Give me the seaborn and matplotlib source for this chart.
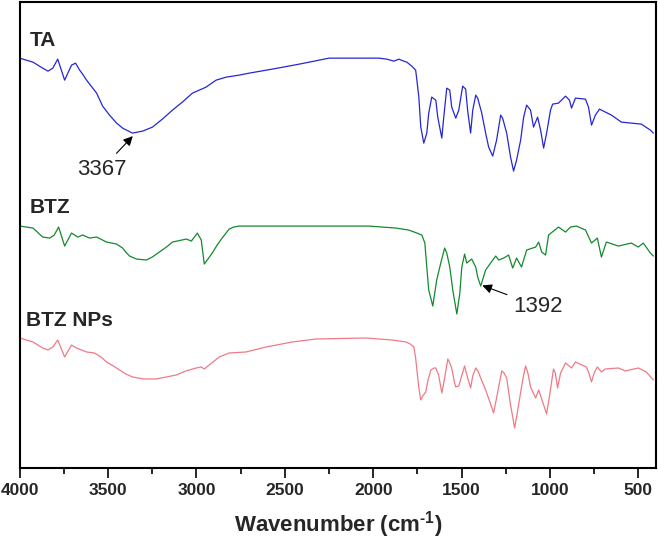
import numpy as np
import pandas as pd
import matplotlib
matplotlib.use("Agg")
import matplotlib.pyplot as plt
from matplotlib.ticker import MultipleLocator
import seaborn as sns

# FTIR spectra (wavenumber in cm-1, transmittance in a.u., offset per sample)
ta_wn = [4000, 3925, 3870, 3840, 3813, 3785, 3746, 3707, 3684, 3661, 3644, 3622, 3565, 3531,
         3492, 3452, 3418, 3362, 3305, 3249, 3193, 3136, 3080, 3023, 2946, 2889, 2832, 2759,
         2702, 2572, 2419, 2250, 1968, 1923, 1883, 1855, 1827, 1810, 1782, 1760, 1753, 1742,
         1731, 1714, 1697, 1686, 1669, 1646, 1635, 1612, 1601, 1584, 1567, 1556, 1533, 1516,
         1494, 1477, 1466, 1449, 1437, 1420, 1409, 1386, 1364, 1347, 1324, 1302, 1279, 1268,
         1245, 1223, 1206, 1189, 1166, 1149, 1132, 1110, 1093, 1070, 1053, 1036, 1019, 997,
         985, 952, 912, 890, 878, 856, 799, 782, 765, 743, 720, 652, 596, 483, 432, 415]
ta_t = [410, 406, 400, 397, 400, 409, 388, 403, 405, 398, 394, 388, 375, 362,
        353, 345, 340, 335, 337, 341, 349, 358, 366, 375, 381, 388, 391, 393,
        395, 399, 404, 410, 410, 409, 407, 409, 407, 406, 402, 398, 388, 371,
        341, 325, 335, 355, 371, 368, 351, 330, 351, 380, 378, 361, 350, 358,
        382, 379, 358, 335, 358, 373, 370, 355, 335, 321, 312, 328, 353, 350,
        335, 311, 297, 308, 328, 351, 363, 358, 341, 351, 338, 320, 335, 358,
        364, 365, 372, 368, 360, 370, 369, 361, 343, 353, 359, 353, 346, 344, 338, 335]

btz_wn = [4000, 3925, 3870, 3830, 3805, 3780, 3746, 3707, 3672, 3644, 3605, 3565, 3509, 3452,
          3418, 3400, 3379, 3340, 3283, 3250, 3210, 3170, 3136, 3057, 3029, 2995, 2973, 2956,
          2939, 2911, 2883, 2855, 2815, 2790, 2759, 2731, 2250, 2024, 1872, 1799, 1753, 1725,
          1708, 1697, 1686, 1663, 1652, 1641, 1618, 1596, 1584, 1567, 1550, 1527, 1510, 1499,
          1483, 1471, 1443, 1420, 1409, 1392, 1364, 1336, 1307, 1290, 1262, 1234, 1211, 1189,
          1161, 1132, 1081, 1064, 1047, 1025, 1008, 952, 912, 884, 850, 799, 765, 732,
          709, 681, 613, 540, 500, 472, 432, 415]
btz_t = [242, 240, 231, 230, 233, 241, 222, 235, 231, 233, 230, 231, 226, 224,
         220, 216, 212, 209, 208, 211, 216, 221, 226, 229, 227, 235, 228, 204,
         208, 215, 223, 230, 239, 241, 242, 242, 242, 242, 240, 238, 235, 233,
         225, 201, 178, 162, 175, 188, 205, 220, 215, 201, 178, 154, 175, 201,
         214, 205, 209, 201, 191, 182, 198, 205, 212, 208, 210, 213, 200, 210,
         201, 218, 221, 226, 216, 213, 233, 241, 236, 241, 242, 238, 225, 230,
         211, 226, 222, 225, 221, 225, 215, 212]

nps_wn = [4000, 3925, 3870, 3840, 3813, 3785, 3746, 3707, 3680, 3650, 3622, 3577, 3540, 3509,
          3470, 3435, 3400, 3362, 3300, 3227, 3170, 3114, 3060, 3001, 2973, 2956, 2928, 2871,
          2815, 2720, 2606, 2459, 2324, 2041, 1894, 1815, 1790, 1770, 1760, 1753, 1742, 1731,
          1720, 1703, 1690, 1674, 1655, 1646, 1630, 1612, 1604, 1596, 1578, 1567, 1556, 1540,
          1533, 1516, 1500, 1483, 1466, 1449, 1437, 1420, 1405, 1392, 1364, 1340, 1319, 1300,
          1273, 1260, 1245, 1225, 1200, 1185, 1161, 1150, 1138, 1125, 1110, 1081, 1064, 1045,
          1019, 1000, 980, 970, 957, 940, 912, 878, 856, 820, 794, 780, 765, 750,
          732, 709, 687, 613, 574, 500, 455, 415]
nps_t = [130, 126, 120, 118, 121, 128, 111, 123, 120, 118, 116, 115, 111, 106,
         102, 98, 94, 91, 89, 89, 91, 93, 97, 100, 101, 99, 103, 111,
         115, 116, 121, 126, 129, 130, 128, 126, 124, 121, 110, 98, 80, 68,
         72, 76, 88, 98, 100, 100, 93, 75, 82, 90, 109, 105, 100, 85,
         81, 82, 92, 102, 90, 80, 92, 100, 96, 90, 78, 66, 55, 72,
         97, 95, 90, 65, 40, 55, 81, 92, 102, 95, 81, 70, 78, 68,
         54, 75, 99, 95, 80, 95, 105, 100, 106, 103, 101, 95, 86, 95,
         101, 96, 99, 100, 97, 100, 96, 88]

samples = ["TA", "BTZ", "BTZ NPs"]
colors = ["#2626d6", "#138a2e", "#f07a86"]

df = pd.concat([
    pd.DataFrame({"wn": ta_wn, "t": ta_t, "sample": "TA"}),
    pd.DataFrame({"wn": btz_wn, "t": btz_t, "sample": "BTZ"}),
    pd.DataFrame({"wn": nps_wn, "t": nps_t, "sample": "BTZ NPs"}),
])

sns.set_style("ticks")
plt.rcParams["font.family"] = ["Liberation Sans", "DejaVu Sans"]
plt.rcParams["mathtext.fontset"] = "custom"
plt.rcParams["mathtext.rm"] = "Liberation Sans:bold"
plt.rcParams["mathtext.bf"] = "Liberation Sans:bold"

fig = plt.figure(figsize=(6.58, 5.46), dpi=100)
ax = fig.add_axes([0.030, 0.143, 0.967, 0.853])

sns.lineplot(data=df, x="wn", y="t", hue="sample", hue_order=samples,
             palette=colors, estimator=None, linewidth=0.9, legend=False, ax=ax)

ax.set_xlim(4000, 400)
ax.set_ylim(0, 466)
ax.xaxis.set_major_locator(MultipleLocator(500))
ax.xaxis.set_minor_locator(MultipleLocator(250))
ax.tick_params(axis="x", which="major", direction="out", length=7, width=1.4,
               labelsize=12.5, pad=4, top=False)
ax.tick_params(axis="x", which="minor", direction="out", length=4, width=1.4, top=False)
ax.set_yticks([])
for lbl in ax.get_xticklabels():
    lbl.set_fontweight("bold")
for sp in ax.spines.values():
    sp.set_visible(True)
    sp.set_linewidth(1.5)
    sp.set_color("black")

ax.set_xlabel(r"Wavenumber (cm$^{\text{-1}}$)", fontsize=16, fontweight="bold", labelpad=8)
ax.set_ylabel("")

# sample labels
ax.text(3944, 428, "TA", fontsize=15, fontweight="bold", va="center", ha="left")
ax.text(3944, 261, "BTZ", fontsize=15, fontweight="bold", va="center", ha="left")
ax.text(3966, 148, "BTZ NPs", fontsize=15, fontweight="bold", va="center", ha="left")

arrow = dict(arrowstyle="-|>", color="black", lw=0.8, mutation_scale=14, shrinkA=2, shrinkB=1)
ax.annotate("3367", xy=(3355, 333), xytext=(3537, 299), fontsize=16,
            ha="center", va="center", arrowprops=arrow)
ax.annotate("1392", xy=(1390, 183), xytext=(1070, 162), fontsize=16,
            ha="center", va="center", arrowprops=arrow)

fig.savefig("out.png", dpi=100)
